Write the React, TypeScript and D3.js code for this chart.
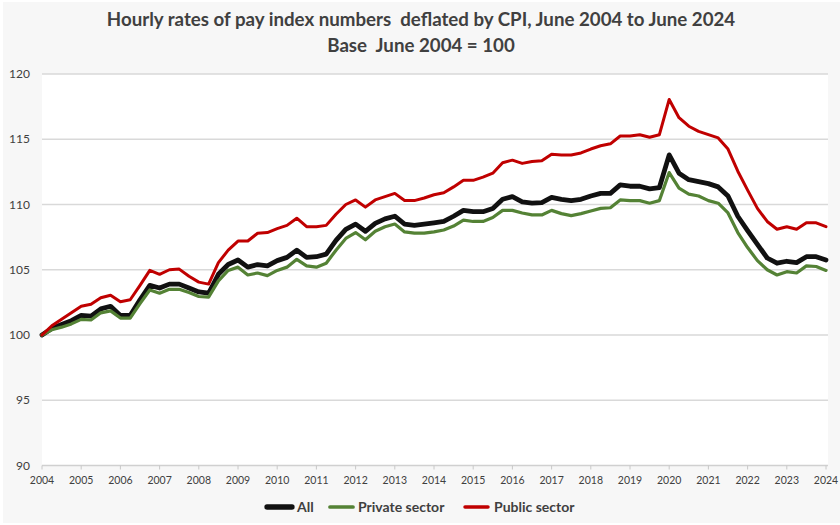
import React from "react";
import * as d3 from "d3";

const years = d3.range(2004, 2025).map(String);

const allSeries = [
  100, 100.5, 100.8, 101.1, 101.5, 101.45, 102.0, 102.2, 101.5, 101.5, 102.7, 103.8, 103.6, 103.9, 103.9, 103.6,
  103.3, 103.2, 104.65, 105.4, 105.75, 105.2, 105.4, 105.3, 105.7, 105.95, 106.5, 105.95, 106.0, 106.2, 107.25, 108.1,
  108.5, 107.95, 108.55, 108.9, 109.1, 108.5, 108.4, 108.5, 108.6, 108.7, 109.1, 109.55, 109.45, 109.45, 109.7, 110.4,
  110.6, 110.2, 110.1, 110.15, 110.55, 110.4, 110.3, 110.4, 110.65, 110.85, 110.85, 111.5, 111.4, 111.4, 111.2, 111.3,
  113.8, 112.4, 111.9, 111.75, 111.6, 111.35, 110.65, 109.1, 108.0, 106.95, 105.9, 105.5, 105.65, 105.55, 106.0, 106.0,
  105.75,
];

const privateSeries = [
  100, 100.4, 100.6, 100.85, 101.2, 101.15, 101.7, 101.85, 101.3, 101.3, 102.4, 103.45, 103.2, 103.5, 103.5, 103.25,
  102.95, 102.9, 104.15, 104.95, 105.2, 104.6, 104.75, 104.55, 104.95, 105.2, 105.8, 105.3, 105.2, 105.5, 106.5, 107.4,
  107.85, 107.3, 107.95, 108.3, 108.5, 107.9, 107.8, 107.8, 107.9, 108.05, 108.35, 108.8, 108.7, 108.7, 109.0, 109.55,
  109.55, 109.35, 109.2, 109.2, 109.55, 109.3, 109.15, 109.3, 109.5, 109.7, 109.75, 110.35, 110.3, 110.3, 110.1, 110.3,
  112.45, 111.25, 110.8, 110.65, 110.3, 110.1, 109.35, 107.85, 106.7, 105.7, 105.0, 104.6, 104.85, 104.75, 105.3, 105.25,
  104.95,
];

const publicSeries = [
  100, 100.7, 101.2, 101.7, 102.2, 102.35, 102.85, 103.05, 102.55, 102.7, 103.8, 104.95, 104.65, 105.0, 105.05, 104.5,
  104.05, 103.9, 105.55, 106.5, 107.2, 107.2, 107.8, 107.85, 108.15, 108.4, 108.95, 108.3, 108.3, 108.4, 109.25, 110.0,
  110.35, 109.8, 110.35, 110.6, 110.85, 110.3, 110.3, 110.5, 110.75, 110.9, 111.35, 111.85, 111.85, 112.1, 112.4, 113.2,
  113.4, 113.15, 113.3, 113.35, 113.85, 113.8, 113.8, 113.95, 114.25, 114.5, 114.65, 115.25, 115.25, 115.35, 115.15, 115.35,
  118.05, 116.65, 116.0, 115.6, 115.35, 115.1, 114.25, 112.55, 111.1, 109.7, 108.7, 108.1, 108.3, 108.1, 108.6, 108.6,
  108.3,
];

const yTicks = [90, 95, 100, 105, 110, 115, 120];

const seriesNames = ["All", "Private sector", "Public sector"];
const seriesColors = ["#111111", "#548235", "#c00000"];
const seriesWidths = [4.8, 3.2, 3];

const titleLines = [
  "Hourly rates of pay index numbers  deflated by CPI, June 2004 to June 2024",
  "Base  June 2004 = 100",
];

export default function App() {
  const W = 840;
  const H = 525;
  const left = 42;
  const right = 826;
  const top = 74;
  const bottom = 465.5;
  const n = allSeries.length;
  const x = d3.scaleLinear().domain([0, n - 1]).range([left, right]);
  const y = d3.scaleLinear().domain([90, 120]).range([bottom, top]);
  const line = d3
    .line<number>()
    .x((_, i) => x(i))
    .y((d) => y(d));
  const data = [allSeries, privateSeries, publicSeries];
  const font = "Lato, 'Open Sans', sans-serif";
  const legendItems = [
    { x1: 267, x2: 292, tx: 297 },
    { x1: 330, x2: 353, tx: 358 },
    { x1: 465, x2: 488, tx: 494 },
  ];
  return (
    <svg
      width={W}
      height={H}
      style={{ position: "absolute", left: 0, top: 0 }}
      fontFamily={font}
    >
      <rect x={0} y={0} width={W} height={H} fill="#ffffff" />
      <rect x={3} y={2} width={W - 3} height={H - 4} fill="#f7f7f7" />
      <rect x={left} y={top} width={828 - left} height={bottom - top} fill="#ffffff" />
      {titleLines.map((t, i) => (
        <text
          key={i}
          x={421}
          y={26 + i * 26}
          textAnchor="middle"
          fontSize={18.7}
          fontWeight={700}
          fill="#404040"
          style={{ whiteSpace: "pre" }}
        >
          {t}
        </text>
      ))}
      {yTicks.map((t) => (
        <g key={t}>
          {t !== 90 && (
            <line x1={left} x2={828} y1={y(t)} y2={y(t)} stroke="#d9d9d9" strokeWidth={1.3} />
          )}
          <text x={30} y={y(t)} dy="0.35em" textAnchor="end" fontSize={12} fill="#404040">
            {t}
          </text>
        </g>
      ))}
      <line x1={left} x2={828} y1={bottom} y2={bottom} stroke="#d0d0d0" strokeWidth={1.3} />
      {years.map((yr, i) => (
        <g key={yr}>
          <line x1={x(i * 4)} x2={x(i * 4)} y1={bottom} y2={bottom + 4} stroke="#c8c8c8" strokeWidth={1} />
          <text x={x(i * 4)} y={480} dy="0.35em" textAnchor="middle" fontSize={10.5} fill="#404040">
            {yr}
          </text>
        </g>
      ))}
      {data.map((s, k) => (
        <path
          key={k}
          d={line(s) || ""}
          fill="none"
          stroke={seriesColors[k]}
          strokeWidth={seriesWidths[k]}
          strokeLinejoin="round"
          strokeLinecap="round"
        />
      ))}
      {seriesNames.map((nm, k) => (
        <g key={nm}>
          <line
            x1={legendItems[k].x1}
            x2={legendItems[k].x2}
            y1={507}
            y2={507}
            stroke={seriesColors[k]}
            strokeWidth={seriesWidths[k] + 0.5}
            strokeLinecap="round"
          />
          <text x={legendItems[k].tx} y={507} dy="0.35em" fontSize={14} fontWeight={700} fill="#404040">
            {nm}
          </text>
        </g>
      ))}
    </svg>
  );
}
